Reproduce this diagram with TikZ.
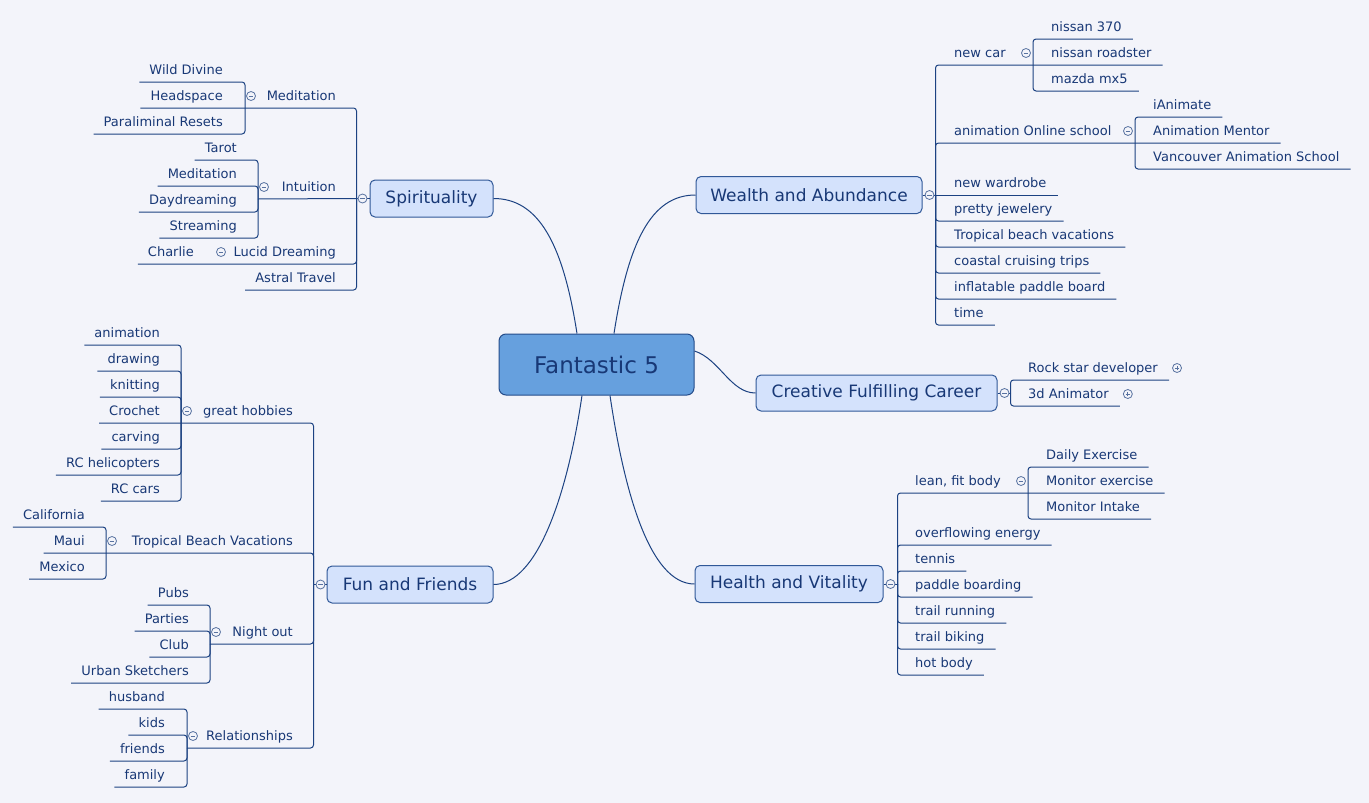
\documentclass[tikz,border=0pt]{standalone}
\usepackage{fontspec}
\setmainfont{DejaVu Sans}

\definecolor{bgc}{RGB}{243,244,250}
\definecolor{lnc}{RGB}{28,66,130}
\definecolor{txc}{RGB}{24,56,118}
\definecolor{hubfill}{RGB}{102,160,222}
\definecolor{hubdraw}{RGB}{36,76,138}
\definecolor{topfill}{RGB}{212,226,252}
\definecolor{topdraw}{RGB}{48,88,152}
\definecolor{foldc}{RGB}{88,114,160}

\tikzset{
  conn/.style={draw=lnc, line width=1pt, rounded corners=3pt},
  leaf/.style={inner sep=0pt, text height=10pt, text depth=7pt, text=txc,
    font=\fontsize{13}{15}\selectfont},
  topic/.style={draw=topdraw, fill=topfill, line width=1pt, rounded corners=5pt,
    text=txc, inner sep=0pt, minimum height=37pt, font=\fontsize{17}{20}\selectfont},
  hub/.style={draw=hubdraw, fill=hubfill, line width=1pt, rounded corners=7pt,
    text=txc, inner sep=0pt, minimum width=195pt, minimum height=61pt,
    font=\fontsize{23}{27}\selectfont},
  foldbase/.style={circle, draw=foldc, fill=bgc, line width=0.8pt, inner sep=0pt,
    minimum size=9pt},
  fold/.style={foldbase, path picture={
      \draw[foldc, line width=0.8pt]
        ([xshift=-2.3pt]path picture bounding box.center) -- ([xshift=2.3pt]path picture bounding box.center);}},
  unfold/.style={foldbase, path picture={
      \draw[foldc, line width=0.8pt]
        ([xshift=-2.3pt]path picture bounding box.center) -- ([xshift=2.3pt]path picture bounding box.center)
        ([yshift=-2.3pt]path picture bounding box.center) -- ([yshift=2.3pt]path picture bounding box.center);}},
}

\begin{document}
\begin{tikzpicture}[x=1pt, y=-1pt]
  \fill[bgc] (0,0) rectangle (1369,803);
  \useasboundingbox (0,0) rectangle (1369,803);

  % central idea and main topics (pixel coordinates, y down)
  \node[hub] (hub) at (596.5,364.5) {Fantastic 5};
  \node[topic, minimum width=123pt] (spirit) at (431.5,198.5) {Spirituality};
  \node[topic, minimum width=226pt] (wealth) at (809,195) {Wealth and Abundance};
  \node[topic, minimum width=241pt, minimum height=36pt] (career) at (876.5,393) {Creative Fulfilling Career};
  \node[topic, minimum width=188pt] (health) at (789,584) {Health and Vitality};
  \node[topic, minimum width=166pt] (fun) at (410,584.5) {Fun and Friends};

  % main branches
  \draw[conn] ([xshift=-19.5pt]hub.north) .. controls +(-14,-90) and +(45,0) .. (spirit.east);
  \draw[conn] ([xshift=17.5pt]hub.north) .. controls +(14,-90) and +(-45,0) .. (wealth.west);
  \draw[conn] ([yshift=-17.5pt]hub.north east) .. controls +(25,8) and +(-25,0) .. (career.west);
  \draw[conn] ([xshift=13.5pt]hub.south) .. controls +(14,95) and +(-45,0) .. (health.west);
  \draw[conn] ([xshift=-14.5pt]hub.south) .. controls +(-14,95) and +(45,0) .. (fun.east);

  % ---- Wealth and Abundance
  \coordinate (wj) at ([xshift=13pt]wealth.east);
  \draw[conn] (wealth.east) -- (wj);
  % new car
  \node[leaf, anchor=south west] (car) at (954,65) {new car};
  \coordinate (carj) at (1033,65);
  \foreach \lbl/\uy [count=\i] in {nissan 370/39,nissan roadster/65,mazda mx5/91}
    \node[leaf, anchor=south west] (car\i) at (1051,\uy) {\lbl};
  \foreach \i in {1,3}
    \draw[conn] (carj) |- ([xshift=11pt]car\i.south east);
  \draw[conn] (wj) |- (carj) -- ([xshift=11pt]car2.south east);
  \node[fold] at ([xshift=-7pt,yshift=12pt]carj) {};
  % online school
  \node[leaf, anchor=south west] (school) at (954,143) {animation Online school};
  \coordinate (schj) at (1135,143);
  \foreach \lbl/\uy [count=\i] in {iAnimate/117,Animation Mentor/143,Vancouver Animation School/169}
    \node[leaf, anchor=south west] (sch\i) at (1153,\uy) {\lbl};
  \foreach \i in {1,3}
    \draw[conn] (schj) |- ([xshift=11pt]sch\i.south east);
  \draw[conn] (wj) |- (schj) -- ([xshift=11pt]sch2.south east);
  \node[fold] at ([xshift=-7pt,yshift=12pt]schj) {};
  % plain wishes
  \foreach \lbl [count=\i from 0] in {new wardrobe,pretty jewelery,Tropical beach vacations,coastal cruising trips,inflatable paddle board,time}
    \node[leaf, anchor=south west] (wl\i) at (954,195+26*\i) {\lbl};
  \draw[conn] (wj) -- ([xshift=11pt]wl0.south east);
  \foreach \i in {1,...,5}
    \draw[conn] (wj) |- ([xshift=11pt]wl\i.south east);
  \node[fold] at ([xshift=7pt]wealth.east) {};

  % ---- Spirituality
  \coordinate (sj) at ([xshift=-13pt]spirit.west);
  \draw[conn] (spirit.west) -- (sj);
  % meditation
  \node[leaf, anchor=south east] (med) at (336,108) {Meditation};
  \coordinate (medj) at (245,108);
  \foreach \lbl/\uy [count=\i] in {Wild Divine/82,Headspace/108,Paraliminal Resets/134}
    \node[leaf, anchor=south east] (med\i) at (223,\uy) {\lbl};
  \foreach \i in {1,3}
    \draw[conn] (medj) |- ([xshift=-10pt]med\i.south west);
  \draw[conn] (sj) |- (medj) -- ([xshift=-10pt]med2.south west);
  \node[fold] at ([xshift=6pt,yshift=12pt]medj) {};
  % intuition
  \node[leaf, anchor=south east] (intu) at (336,199) {Intuition};
  \coordinate (intj) at (258,199);
  \draw[conn] (sj) -- (intj);
  \foreach \lbl/\uy [count=\i] in {Tarot/160,Meditation/186,Daydreaming/212,Streaming/238}{
    \node[leaf, anchor=south east] (int\i) at (237,\uy) {\lbl};
    \draw[conn] (intj) |- ([xshift=-10pt]int\i.south west);
  }
  \node[fold] at ([xshift=6pt,yshift=12pt]intj) {};
  % lucid dreaming
  \node[leaf, anchor=south east] (lucid) at (336,264) {Lucid Dreaming};
  \coordinate (lucj) at (215,264);
  \node[leaf, anchor=south east] (charlie) at (194,264) {Charlie};
  \draw[conn] (sj) |- (lucj) -- ([xshift=-10pt]charlie.south west);
  \node[fold] at ([xshift=6pt,yshift=12pt]lucj) {};
  % astral travel
  \node[leaf, anchor=south east] (astral) at (336,290) {Astral Travel};
  \draw[conn] (sj) |- ([xshift=-10pt]astral.south west);
  \node[fold] at ([xshift=-7pt]spirit.west) {};

  % ---- Creative Fulfilling Career
  \coordinate (cj) at ([xshift=13pt]career.east);
  \draw[conn] (career.east) -- (cj);
  \foreach \lbl/\uy [count=\i] in {Rock star developer/380,3d Animator/406}{
    \node[leaf, anchor=south west] (job\i) at (1028,\uy) {\lbl};
    \draw[conn] (cj) |- ([xshift=11pt]job\i.south east);
    \node[unfold] at ([xshift=19pt,yshift=12pt]job\i.south east) {};
  }
  \node[fold] at ([xshift=7pt]career.east) {};

  % ---- Health and Vitality
  \coordinate (hj) at ([xshift=14pt]health.east);
  \draw[conn] (health.east) -- (hj);
  % lean body
  \node[leaf, anchor=south west] (lean) at (915,493) {lean, fit body};
  \coordinate (leanj) at (1028,493);
  \foreach \lbl/\uy [count=\i] in {Daily Exercise/467,Monitor exercise/493,Monitor Intake/519}
    \node[leaf, anchor=south west] (lean\i) at (1046,\uy) {\lbl};
  \foreach \i in {1,3}
    \draw[conn] (leanj) |- ([xshift=11pt]lean\i.south east);
  \draw[conn] (hj) |- (leanj) -- ([xshift=11pt]lean2.south east);
  \node[fold] at ([xshift=-7pt,yshift=12pt]leanj) {};
  % the rest
  \foreach \lbl [count=\i from 0] in {overflowing energy,tennis,paddle boarding,trail running,trail biking,hot body}{
    \node[leaf, anchor=south west] (hv\i) at (915,545+26*\i) {\lbl};
    \draw[conn] (hj) |- ([xshift=11pt]hv\i.south east);
  }
  \node[fold] at ([xshift=7pt]health.east) {};

  % ---- Fun and Friends
  \coordinate (fj) at ([xshift=-13pt]fun.west);
  \draw[conn] (fun.west) -- (fj);
  % hobbies
  \node[leaf, anchor=south east] (hob) at (293,423) {great hobbies};
  \coordinate (hobj) at (181,423);
  \foreach \lbl [count=\i from 0] in {animation,drawing,knitting,Crochet,carving,RC helicopters,RC cars}
    \node[leaf, anchor=south east] (hob\i) at (160,345+26*\i) {\lbl};
  \foreach \i in {0,1,2,4,5,6}
    \draw[conn] (hobj) |- ([xshift=-10pt]hob\i.south west);
  \draw[conn] (fj) |- (hobj) -- ([xshift=-10pt]hob3.south west);
  \node[fold] at ([xshift=6pt,yshift=12pt]hobj) {};
  % beach vacations
  \node[leaf, anchor=south east] (trop) at (293,553) {Tropical Beach Vacations};
  \coordinate (tropj) at (106,553);
  \foreach \lbl [count=\i from 0] in {California,Maui,Mexico}
    \node[leaf, anchor=south east] (trop\i) at (85,527+26*\i) {\lbl};
  \foreach \i in {0,2}
    \draw[conn] (tropj) |- ([xshift=-10pt]trop\i.south west);
  \draw[conn] (fj) |- (tropj) -- ([xshift=-10pt]trop1.south west);
  \node[fold] at ([xshift=6pt,yshift=12pt]tropj) {};
  % night out
  \node[leaf, anchor=south east] (night) at (293,644) {Night out};
  \coordinate (nigj) at (210,644);
  \draw[conn] (fj) |- (nigj);
  \foreach \lbl [count=\i from 0] in {Pubs,Parties,Club,Urban Sketchers}{
    \node[leaf, anchor=south east] (nig\i) at (189,605+26*\i) {\lbl};
    \draw[conn] (nigj) |- ([xshift=-10pt]nig\i.south west);
  }
  \node[fold] at ([xshift=6pt,yshift=12pt]nigj) {};
  % relationships
  \node[leaf, anchor=south east] (rel) at (293,748) {Relationships};
  \coordinate (relj) at (187,748);
  \draw[conn] (fj) |- (relj);
  \foreach \lbl [count=\i from 0] in {husband,kids,friends,family}{
    \node[leaf, anchor=south east] (rel\i) at (165,709+26*\i) {\lbl};
    \draw[conn] (relj) |- ([xshift=-10pt]rel\i.south west);
  }
  \node[fold] at ([xshift=6pt,yshift=12pt]relj) {};
  \node[fold] at ([xshift=-6pt]fun.west) {};
\end{tikzpicture}
\end{document}
